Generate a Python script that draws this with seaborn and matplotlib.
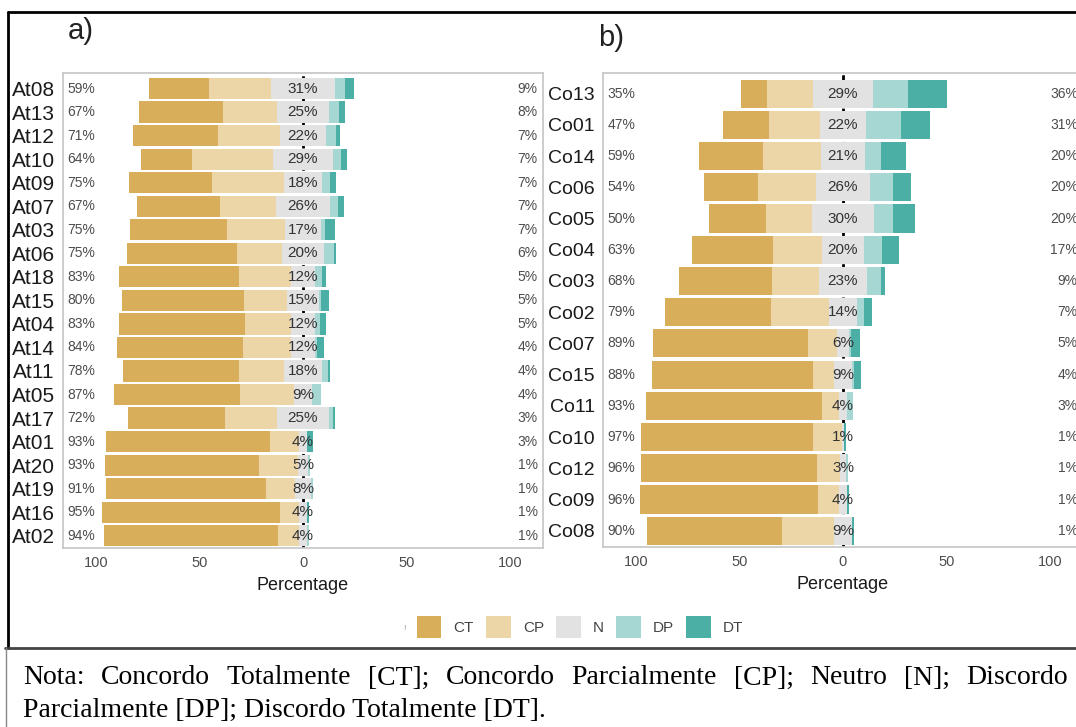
import matplotlib
matplotlib.use("Agg")
import numpy as np
import pandas as pd
import matplotlib.pyplot as plt
import seaborn as sns
from matplotlib.lines import Line2D
from matplotlib.patches import Patch

# ================= dados =================
items_a = ["At08", "At13", "At12", "At10", "At09", "At07", "At03", "At06", "At18", "At15",
           "At04", "At14", "At11", "At05", "At17", "At01", "At20", "At19", "At16", "At02"]
ct_a = [29, 41, 41, 25, 40, 40, 47, 53, 58, 59, 61, 61, 56, 61, 47, 79, 74, 77, 86, 84]
cp_a = [30, 26, 30, 39, 35, 27, 28, 22, 25, 21, 22, 23, 22, 26, 25, 14, 19, 14, 9, 10]
n_a = [31, 25, 22, 29, 18, 26, 17, 20, 12, 15, 12, 12, 18, 9, 25, 4, 5, 8, 4, 4]
dp_a = [5, 5, 5, 4, 4, 4, 2, 5, 3, 1, 2, 1, 3, 4, 2, 0, 1, 1, 0, 1]
dt_a = [4, 3, 2, 3, 3, 3, 5, 1, 2, 4, 3, 3, 1, 0, 1, 3, 0, 0, 1, 0]

items_b = ["Co13", "Co01", "Co14", "Co06", "Co05", "Co04", "Co03", "Co02", "Co07", "Co15",
           "Co11", "Co10", "Co12", "Co09", "Co08"]
ct_b = [13, 22, 31, 26, 28, 39, 45, 51, 75, 78, 85, 83, 85, 86, 65]
cp_b = [22, 25, 28, 28, 22, 24, 23, 28, 14, 10, 8, 14, 11, 10, 25]
n_b = [29, 22, 21, 26, 30, 20, 23, 14, 6, 9, 4, 1, 3, 4, 9]
dp_b = [17, 17, 8, 11, 9, 9, 7, 3, 1, 1, 3, 0, 1, 0, 0]
dt_b = [19, 14, 12, 9, 11, 8, 2, 4, 4, 3, 0, 1, 0, 1, 1]

levels = ["CT", "CP", "N", "DP", "DT"]
colors = ["#D9AE5B", "#ECD6A8", "#E2E2E2", "#A7D7D3", "#4CAFA6"]

caption_1 = "Nota: Concordo Totalmente [CT]; Concordo Parcialmente [CP]; Neutro [N]; Discordo"
caption_2 = "Parcialmente [DP]; Discordo Totalmente [DT]."

W, H = 1076, 727

sns.set_theme(style="white")
plt.rcParams["font.family"] = ["Liberation Sans", "DejaVu Sans"]


def likert_panel(ax, items, ct, cp, n, dp, dt, ylab_size):
    df = pd.DataFrame({"item": items, "CT": ct, "CP": cp, "N": n, "DP": dp, "DT": dt})
    df["left_ct"] = -(df["CT"] + df["CP"] + df["N"] / 2)
    df["left_cp"] = -(df["CP"] + df["N"] / 2)
    df["left_n"] = -(df["N"] / 2)
    df["right_dt"] = df["N"] / 2 + df["DP"] + df["DT"]
    df["right_dp"] = df["N"] / 2 + df["DP"]
    df["right_n"] = df["N"] / 2

    # linha do zero atrás das barras: só aparece nos intervalos entre linhas
    ax.axvline(0, color="black", ls=(0, (2, 2)), lw=2, zorder=0.5)

    layers = [("left_ct", colors[0]), ("left_cp", colors[1]), ("left_n", colors[2]),
              ("right_dt", colors[4]), ("right_dp", colors[3]), ("right_n", colors[2])]
    for col, c in layers:
        sns.barplot(data=df, x=col, y="item", order=items, color=c, orient="h",
                    width=0.9, errorbar=None, saturation=1, linewidth=0, ax=ax)

    for i, row in df.iterrows():
        ax.text(-114, i, f"{row.CT + row.CP:.0f}%", ha="left", va="center",
                fontsize=10, color="#4d4d4d", zorder=5)
        ax.text(0, i, f"{row.N:.0f}%", ha="center", va="center",
                fontsize=11, color="#333333", zorder=5)
        ax.text(113.5, i, f"{row.DP + row.DT:.0f}%", ha="right", va="center",
                fontsize=10, color="#4d4d4d", zorder=5, clip_on=False)

    ax.set_xlim(-116, 116)
    nn = len(items)
    ax.set_ylim(nn - 1 + 0.52, -0.66)
    ax.set_xticks([-100, -50, 0, 50, 100])
    ax.set_xticklabels(["100", "50", "0", "50", "100"])
    ax.tick_params(axis="x", length=0, pad=6, labelsize=10.5, labelcolor="#4d4d4d")
    ax.tick_params(axis="y", length=0, pad=6, labelsize=ylab_size, labelcolor="#1a1a1a")
    ax.set_ylabel("")
    ax.set_xlabel("Percentage", fontsize=13, color="#1a1a1a", labelpad=5)
    for s in ax.spines.values():
        s.set_color("#c9c9c9")
        s.set_linewidth(1.3)
    ax.set_facecolor("white")


fig = plt.figure(figsize=(W / 100, H / 100), dpi=100)
fig.patch.set_facecolor("white")

ax_a = fig.add_axes([63 / W, (H - 548) / H, 480 / W, 475 / H])
ax_b = fig.add_axes([603 / W, (H - 547) / H, 480 / W, 474 / H])

likert_panel(ax_a, items_a, ct_a, cp_a, n_a, dp_a, dt_a, 15)
likert_panel(ax_b, items_b, ct_b, cp_b, n_b, dp_b, dt_b, 14)

fig.text(68 / W, 1 - 31 / H, "a)", fontsize=21, color="#222222", ha="left", va="center")
fig.text(598 / W, 1 - 38 / H, "b)", fontsize=21, color="#222222", ha="left", va="center")

# legenda
handles = [Patch(facecolor=c, edgecolor="none") for c in colors]
fig.legend(handles, levels, loc="center", bbox_to_anchor=(580 / W, 1 - 627 / H), ncol=5,
           frameon=False, fontsize=11, handlelength=1.6, handleheight=1.8,
           handletextpad=0.8, columnspacing=0.8, labelcolor="#444444")
fig.text(404 / W, 1 - 628 / H, "!", fontsize=6, color="#999999", ha="center", va="center")

# molduras
fig.add_artist(Line2D([8 / W, 1], [1 - 12 / H, 1 - 12 / H], color="black", lw=2))
fig.add_artist(Line2D([8 / W, 8 / W], [1 - 12 / H, 1 - 648 / H], color="black", lw=2))
fig.add_artist(Line2D([5 / W, 1], [1 - 648 / H, 1 - 648 / H], color="#444444", lw=2))
fig.add_artist(Line2D([6 / W, 6 / W], [1 - 648 / H, 0], color="#888888", lw=1))

# nota (linha 1 justificada)
serif = ["Liberation Serif", "DejaVu Serif"]
words = caption_1.split()
texts = [fig.text(0, 1 - 678 / H, w, fontsize=20, family=serif, color="black",
                  ha="left", va="center") for w in words]
fig.canvas.draw()
renderer = fig.canvas.get_renderer()
widths = [t.get_window_extent(renderer).width for t in texts]
x0, x1 = 23, 1068
gap = (x1 - x0 - sum(widths)) / (len(words) - 1)
x = x0
for t, w in zip(texts, widths):
    t.set_x(x / W)
    x += w + gap
fig.text(23 / W, 1 - 710 / H, caption_2, fontsize=20, family=serif, color="black",
         ha="left", va="center")

fig.savefig("out.png", dpi=100)
